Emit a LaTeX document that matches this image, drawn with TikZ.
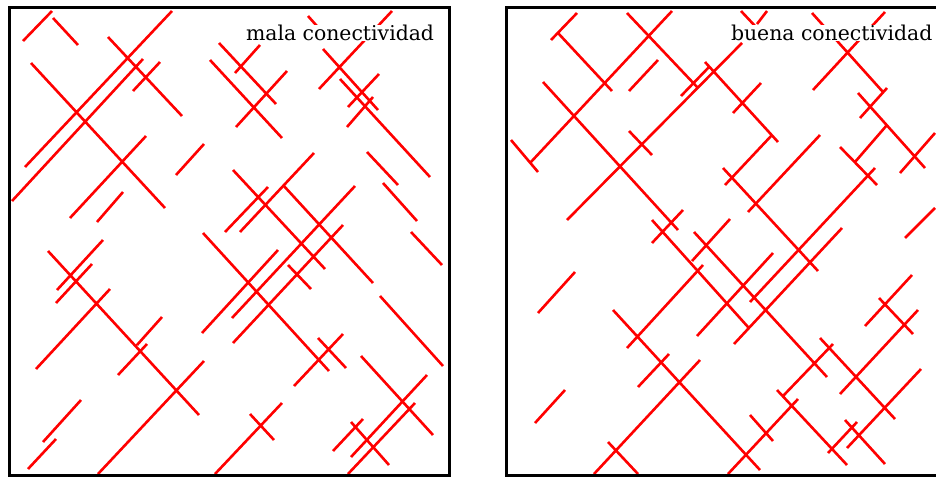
\documentclass[tikz,border=0pt]{standalone}
\usepackage{tikz}
\usepackage{fontspec}
\setmainfont{DejaVu Serif}
\tikzset{
  redline/.style={draw=red, line width=2.6pt},
  framebox/.style={draw=black, line width=3pt},
  label/.style={fill=white, inner sep=0pt, outer sep=0pt, anchor=base west, font=\fontsize{20.4}{24}\selectfont}
}
\begin{document}
\begin{tikzpicture}[x=1pt,y=-1pt]
\useasboundingbox (0,0) rectangle (936,477);
% left box lines
\draw[redline]
 (23,41)--(52,11) (53,18)--(78,45) (31,63)--(165,208) (25,167)--(172,11)
 (12,201)--(143,59) (133,91)--(160,62) (108,37)--(182,116) (70,218)--(146,136)
 (97,222)--(123,192) (176,175)--(204,144) (219,43)--(276,104) (235,73)--(260,45)
 (210,60)--(282,138) (236,127)--(287,71) (323,49)--(378,110) (319,89)--(392,11)
 (340,79)--(430,177) (348,107)--(379,74) (347,127)--(373,97) (367,152)--(398,185)
 (383,183)--(417,221) (233,170)--(325,269) (283,185)--(373,283) (240,232)--(314,153)
 (225,232)--(268,187) (203,233)--(329,371) (202,333)--(278,250) (232,318)--(355,186)
 (233,343)--(343,225) (288,265)--(311,289) (411,232)--(442,265) (380,296)--(443,366)
 (318,338)--(346,368) (294,386)--(343,334) (361,356)--(433,435) (427,375)--(351,457)
 (415,403)--(348,474) (351,422)--(389,465) (363,419)--(333,451) (137,345)--(162,317)
 (118,375)--(147,344) (48,251)--(199,415) (98,474)--(204,361) (250,414)--(274,440)
 (282,403)--(215,474) (103,240)--(57,290) (92,264)--(56,303) (110,289)--(36,369)
 (81,400)--(43,442) (56,439)--(28,469) (308,16)--(324,34);
% right box lines
\draw[redline]
 (551,40)--(577,13) (558,33)--(612,91) (627,13)--(698,88) (530,163)--(672,11)
 (511,140)--(538,172) (543,82)--(678,230) (629,91)--(658,60) (567,220)--(742,43)
 (767,11)--(757,24)
 (741,11)--(756,27) (629,131)--(652,155) (681,96)--(710,66) (705,62)--(778,142)
 (733,113)--(761,83) (772,135)--(725,185) (723,168)--(818,271) (748,212)--(820,135)
 (683,210)--(652,243) (730,219)--(692,261) (812,13)--(883,92) (813,90)--(885,12)
 (887,88)--(860,118) (858,93)--(925,168) (887,125)--(855,162) (840,147)--(877,185)
 (875,168)--(750,302) (935,133)--(900,173) (935,208)--(905,238) (575,272)--(538,313)
 (565,390)--(535,423) (608,442)--(638,474) (652,220)--(748,327) (694,232)--(827,377)
 (703,265)--(627,348) (773,253)--(697,336) (842,228)--(734,344) (912,275)--(865,326)
 (879,298)--(913,334) (918,310)--(840,394) (820,338)--(895,419) (833,344)--(783,396)
 (777,390)--(847,465) (798,399)--(728,474) (921,369)--(847,448) (857,422)--(828,453)
 (845,420)--(885,464) (613,310)--(760,470) (669,354)--(638,387) (700,360)--(594,474)
 (750,415)--(773,441);
% frames
\draw[framebox] (9.5,7.5) rectangle (449.5,475.5);
\draw[framebox] (506,7.5) rectangle (960,475.5);
% labels
\node[label] (mala) at (246,40.5) {mala conectividad};
\node[label] (buena) at (731,40.5) {buena conectividad};
\end{tikzpicture}
\end{document}
